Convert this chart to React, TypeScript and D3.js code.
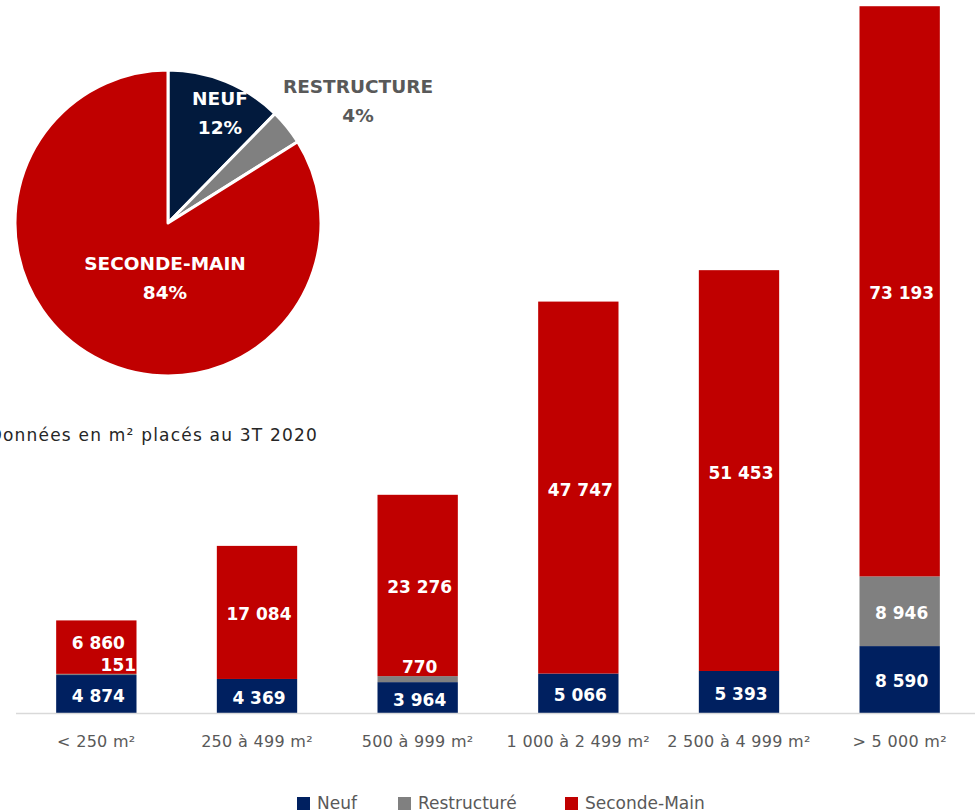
import React from 'react';
import * as d3 from 'd3';

const categories = ['< 250 m²', '250 à 499 m²', '500 à 999 m²', '1 000 à 2 499 m²', '2 500 à 4 999 m²', '> 5 000 m²'];
const neuf = [4874, 4369, 3964, 5066, 5393, 8590];
const restructure = [151, 0, 770, 0, 0, 8946];
const secondeMain = [6860, 17084, 23276, 47747, 51453, 73193];
const seriesNames = ['Neuf', 'Restructuré', 'Seconde-Main'];
const pieLabels = ['NEUF', 'RESTRUCTURE', 'SECONDE-MAIN'];

const W = 975;
const H = 812;
const FONT = '"DejaVu Sans", sans-serif';
const barColors = ['#002060', '#808080', '#c00000'];
const pieColors = ['#021a3d', '#808080', '#c00000'];

const fmt = (v: number) => d3.format(',')(v).replace(/,/g, ' ');

// small nudges for labels Excel moved to avoid overlaps
const nudge: Record<string, [number, number]> = {
  '0-1': [20, 0],
  '0-2': [0, -6],
};

const App: React.FC = () => {
  const x = d3.scaleBand<string>().domain(categories).range([16, 980]).paddingInner(0.5).paddingOuter(0.25);
  const y = d3.scaleLinear().domain([0, 100000]).range([713, -66]);

  const rows = categories.map((c, i) => ({ cat: c, neuf: neuf[i], restructure: restructure[i], secondeMain: secondeMain[i] }));
  const keys = ['neuf', 'restructure', 'secondeMain'];
  const stacked = d3.stack<any>().keys(keys)(rows);

  const totals = [d3.sum(neuf), d3.sum(restructure), d3.sum(secondeMain)];
  const grand = d3.sum(totals);
  const pie = d3.pie<number>().sort(null).value(d => d)(totals);
  const arc = d3.arc<d3.PieArcDatum<number>>().innerRadius(0).outerRadius(153);
  const pcx = 168;
  const pcy = 223;
  const pieLabelPos: [number, number, string][] = [
    [220, 99, '#ffffff'],
    [358, 87, '#595959'],
    [165, 264, '#ffffff'],
  ];

  return (
    <svg width={W} height={H} style={{ position: 'fixed', left: 0, top: 0, background: '#fff' }} fontFamily={FONT}>
      {/* pie */}
      <g transform={`translate(${pcx},${pcy})`}>
        {pie.map((p, i) => (
          <path key={i} d={arc(p) || ''} fill={pieColors[i]} stroke="#fff" strokeWidth={3} strokeLinejoin="round" />
        ))}
      </g>
      {pie.map((p, i) => {
        const [lx, ly, col] = pieLabelPos[i];
        return (
          <text key={i} x={lx} y={ly} fill={col} fontWeight="bold" fontSize={18.5} textAnchor="middle">
            <tspan x={lx} dy="0.35em">{pieLabels[i]}</tspan>
            <tspan x={lx} dy="1.55em">{Math.round((p.value / grand) * 100)}%</tspan>
          </text>
        );
      })}

      <text x={318} y={441} textAnchor="end" fontSize={17} letterSpacing={1.2} fill="#262626">Données en m² placés au 3T 2020</text>

      {/* bars */}
      {stacked.map((s, si) => (
        <g key={si}>
          {s.map((d, ci) => {
            const v = d[1] - d[0];
            if (v <= 0) return null;
            return (
              <rect key={ci} x={x(categories[ci])} width={x.bandwidth()} y={y(d[1])} height={y(d[0]) - y(d[1])} fill={barColors[si]} />
            );
          })}
        </g>
      ))}
      {stacked.map((s, si) => (
        <g key={'l' + si}>
          {s.map((d, ci) => {
            const v = d[1] - d[0];
            if (v <= 0) return null;
            const h = y(d[0]) - y(d[1]);
            const [dx, dy] = nudge[`${ci}-${si}`] || [0, 0];
            const cx = (x(categories[ci]) || 0) + x.bandwidth() / 2 + 2 + dx;
            const cy = h < 16 ? y(d[1]) - 9 : (y(d[0]) + y(d[1])) / 2 + 2;
            return (
              <text key={ci} x={cx} y={cy + dy} dy="0.35em" textAnchor="middle" fill="#fff" fontWeight="bold" fontSize={17}>
                {fmt(v)}
              </text>
            );
          })}
        </g>
      ))}

      {/* axis */}
      <line x1={16} x2={W} y1={713.5} y2={713.5} stroke="#d9d9d9" strokeWidth={1.5} />
      {categories.map(c => (
        <text key={c} x={(x(c) || 0) + x.bandwidth() / 2} y={741} dy="0.35em" textAnchor="middle" fontSize={16} letterSpacing={0.3} fill="#595959">
          {c}
        </text>
      ))}

      {/* legend */}
      {seriesNames.map((n, i) => {
        const lx = [297, 398, 565][i];
        return (
          <g key={n}>
            <rect x={lx} y={797} width={13} height={13} fill={barColors[i]} />
            <text x={lx + 20} y={809} fontSize={17} fill="#595959">{n}</text>
          </g>
        );
      })}
    </svg>
  );
};

export default App;
